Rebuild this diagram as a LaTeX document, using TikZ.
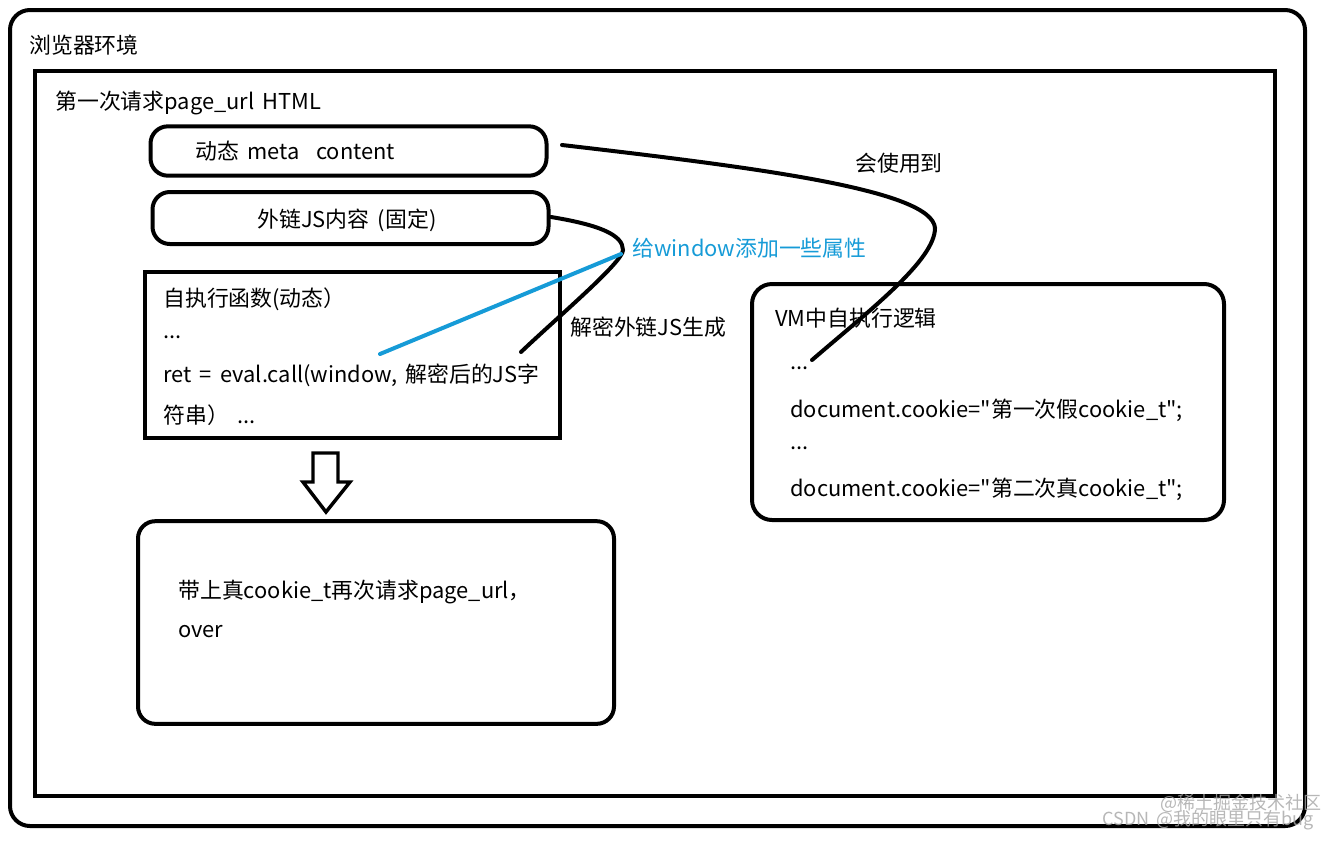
\documentclass[tikz,border=0pt]{standalone}
\usepackage{fontspec}
\newfontfamily\yh[WordSpace=1.7]{Noto Sans CJK SC}
\definecolor{lblue}{RGB}{22,155,215}
\definecolor{wm}{RGB}{165,165,165}
\begin{document}
\begin{tikzpicture}[x=0.75pt,y=-0.75pt,
  txt/.style={font=\yh\fontsize{16.4}{19}\selectfont, inner sep=0pt, anchor=west},
  ctxt/.style={font=\yh\fontsize{16.4}{19}\selectfont, inner sep=0pt},
  pill/.style={draw, line width=3pt, rounded corners=13pt, minimum width=297pt, minimum height=37pt, inner sep=0pt},
  sqbox/.style={draw, line width=3pt, inner sep=0pt},
  rbox/.style={draw, line width=3pt, rounded corners=13pt, inner sep=0pt},
  wire/.style={line width=3pt, line cap=round},
  bwire/.style={line width=3pt, line cap=round, draw=lblue},
  wmark/.style={font=\yh\fontsize{13.5}{15}\selectfont, inner sep=0pt, anchor=west, text=wm, opacity=0.8}]
\useasboundingbox (0,0) rectangle (1344,840);
% frames
\draw[line width=3pt, rounded corners=15pt] (10,10) rectangle (1305,826);
\node[txt] (envt) at (29,45) {浏览器环境};
\draw[line width=3.5pt] (35,71) rectangle (1275,796);
\node[txt] (htmlt) at (55,103) {第一次请求page\_url HTML};
% meta box
\node[pill] (meta) at (348.5,151) {};
\node[txt] (metat) at (195,151) {动态 meta\ \ content};
% js box
\node[pill, minimum height=39pt] (js) at (350.5,218) {};
\node[ctxt] (jst) at (347,220) {外链JS内容 (固定)};
% self-exec box
\node[sqbox, minimum width=311pt, minimum height=124.5pt] (fn) at (352.5,355) {};
\node[txt] (fn1) at (163,299) {自执行函数(动态）};
\node[txt] (fn2) at (163,337) {...};
\node[txt] (fn3) at (163,375) {ret = eval.call(window, 解密后的JS字};
\node[txt] (fn4) at (163,415) {符串） ...};
% hollow arrow
\draw[line width=2.6pt, line join=miter] (313,453) -- (338,453) -- (338,482) -- (350,482) -- (326,512) -- (303,482) -- (313,482) -- cycle;
% final box
\node[rbox, minimum width=357pt, minimum height=152pt] (fin) at (376,622.5) {};
\node[txt] (fin1) at (178,592) {带上真cookie\_t再次请求page\_url，};
\node[txt] (fin2) at (178,632) {over};
% VM box
\node[rbox, rounded corners=15pt, minimum width=354pt, minimum height=177pt] (vm) at (988,402) {};
\node[txt] (vm1) at (775,318) {VM中自执行逻辑};
\node[txt] (vm2) at (790,368) {...};
\node[txt] (vm3) at (790,410) {document.cookie="第一次假cookie\_t";};
\node[txt] (vm4) at (790,448) {...};
\node[txt] (vm5) at (790,489) {document.cookie="第二次真cookie\_t";};
% labels
\node[txt] (uset) at (855,163) {会使用到};
\node[txt, text=lblue] (wint) at (632,248) {给window添加一些属性};
\node[txt] (dect) at (570,327) {解密外链JS生成};
% connectors
\coordinate (c1s) at (562,145);
\coordinate (c1m) at (935,228);
\coordinate (c1e) at (812,360);
\draw[wire] (c1s) .. controls (760,168) and (932,190) .. (c1m) .. controls (935,260) and (870,310) .. (c1e);
\coordinate (c2s) at (551,217);
\coordinate (c2m) at (623,250);
\coordinate (c2e) at (521,352);
\draw[wire] (c2s) .. controls (600,225) and (623,235) .. (c2m) .. controls (623,262) and (560,315) .. (c2e);
\coordinate (b1) at (380,354);
\coordinate (b2) at (621,254);
\draw[bwire] (b1) -- (b2);
% watermark
\node[wmark] (wm1) at (1160,803) {@稀土掘金技术社区};
\node[wmark] (wm2) at (1102,820) {CSDN @我的眼里只有bug};
\end{tikzpicture}
\end{document}
